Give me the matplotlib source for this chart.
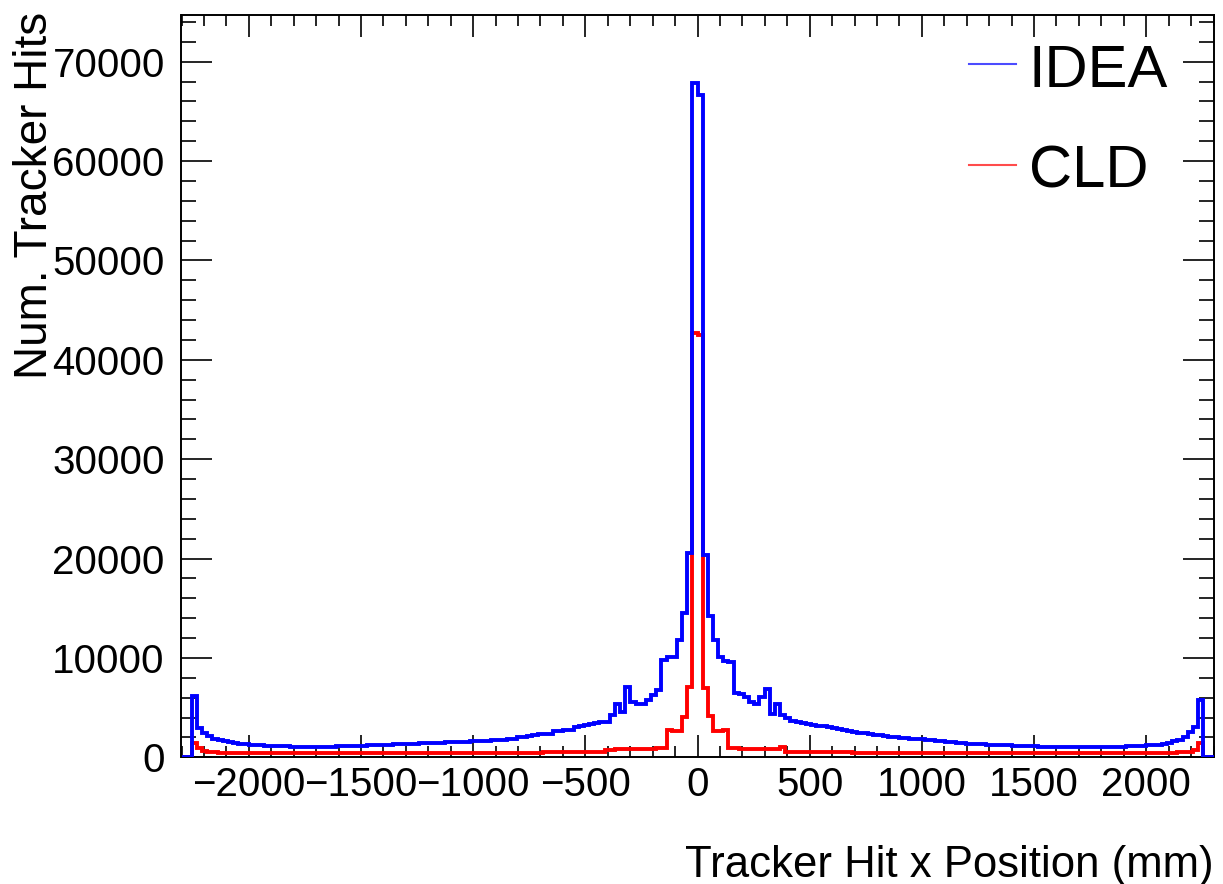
import numpy as np
import matplotlib
matplotlib.use("Agg")
import matplotlib.pyplot as plt
from matplotlib.ticker import MultipleLocator

plt.rcParams['font.family'] = ['Liberation Sans', 'DejaVu Sans']

# ---------------- data ----------------
x_lo, x_hi, n_bins = -2300.0, 2300.0, 200

# IDEA (blue): left half listed from the outermost bin (x=-2300) toward 0
idea_left = [
    0, 0, 6200, 2900, 2400, 2100, 1850, 1700, 1600, 1500,
    1400, 1350, 1300, 1250, 1200, 1200, 1150, 1150, 1100, 1100,
    1100, 1050, 1050, 1050, 1000, 1050, 1000, 1050, 1050, 1050,
    1100, 1100, 1100, 1150, 1150, 1150, 1200, 1200, 1200, 1250,
    1250, 1300, 1300, 1300, 1350, 1350, 1400, 1400, 1400, 1450,
    1450, 1500, 1500, 1550, 1550, 1550, 1600, 1600, 1600, 1650,
    1700, 1750, 1750, 1800, 1850, 2000, 2050, 2100, 2250, 2300,
    2350, 2300, 2600, 2650, 2700, 2750, 3050, 3200, 3300, 3400,
    3450, 3600, 3600, 4250, 5400, 4600, 7100, 5600, 5400, 5400,
    5800, 6300, 6800, 9800, 10100, 10100, 11800, 14500, 20600, 67900,
]
# IDEA right half listed from 0 toward x=+2300
idea_right = [
    66600, 20400, 14200, 11800, 10100, 9700, 9600, 6500, 6400, 6100,
    5600, 5400, 6100, 6900, 4400, 5400, 4300, 4000, 3700, 3600,
    3500, 3400, 3300, 3200, 3100, 3000, 2900, 2800, 2700, 2600,
    2500, 2450, 2400, 2300, 2250, 2200, 2100, 2050, 2000, 1950,
    1900, 1850, 1800, 1800, 1750, 1700, 1650, 1600, 1550, 1500,
    1450, 1400, 1350, 1350, 1300, 1300, 1250, 1250, 1200, 1200,
    1200, 1150, 1150, 1100, 1100, 1100, 1050, 1050, 1050, 1000,
    1000, 1000, 1000, 1000, 1000, 1000, 1000, 1000, 1000, 1000,
    1050, 1050, 1050, 1100, 1100, 1150, 1150, 1200, 1200, 1250,
    1350, 1450, 1600, 1750, 2050, 2550, 3050, 5800, 0, 0,
]

# CLD (red)
cld_left = [
    0, 0, 1400, 900, 650, 550, 500, 450, 420, 400,
    400, 400, 400, 400, 400, 400, 400, 400, 400, 400,
    400, 400, 400, 400, 400, 400, 400, 400, 400, 400,
    400, 400, 400, 400, 400, 400, 400, 400, 400, 400,
    400, 400, 400, 400, 400, 400, 400, 400, 400, 450,
    450, 450, 450, 450, 450, 450, 450, 450, 450, 450,
    450, 450, 450, 450, 450, 450, 450, 450, 450, 450,
    500, 500, 500, 500, 500, 500, 500, 500, 500, 500,
    500, 550, 750, 750, 800, 800, 850, 800, 800, 850,
    850, 850, 900, 900, 2750, 2600, 2600, 4100, 7100, 42700,
]
cld_right = [
    42500, 7000, 4200, 2600, 2600, 2750, 900, 900, 850, 850,
    850, 800, 800, 800, 800, 800, 1000, 550, 500, 500,
    500, 500, 500, 500, 500, 500, 500, 500, 500, 500,
    450, 450, 450, 450, 450, 450, 450, 450, 450, 450,
    450, 450, 450, 450, 450, 450, 450, 450, 450, 450,
    400, 400, 400, 400, 400, 400, 400, 400, 400, 400,
    400, 400, 400, 400, 400, 400, 400, 400, 400, 400,
    400, 400, 400, 400, 400, 400, 400, 400, 400, 400,
    400, 400, 400, 400, 400, 400, 400, 400, 400, 400,
    420, 450, 450, 500, 500, 550, 750, 1400, 0, 0,
]

idea = np.array(idea_left + idea_right, dtype=float)
cld = np.array(cld_left + cld_right, dtype=float)
edges = np.linspace(x_lo, x_hi, n_bins + 1)

# ---------------- figure ----------------
W, H = 1223, 884
fig = plt.figure(figsize=(W / 100, H / 100), dpi=100)
L, R, T, B = 181.5, 1213.5, 15, 757.3
ax = fig.add_axes([L / W, 1 - B / H, (R - L) / W, (B - T) / H])

ax.stairs(cld, edges, color='#ff0000', lw=2.8, zorder=2)
ax.stairs(idea, edges, color='#0000ff', lw=2.8, zorder=3)

ax.set_xlim(x_lo, x_hi)
ax.set_ylim(0, 74700)

ax.xaxis.set_major_locator(MultipleLocator(500))
ax.xaxis.set_minor_locator(MultipleLocator(100))
ax.yaxis.set_major_locator(MultipleLocator(10000))
ax.yaxis.set_minor_locator(MultipleLocator(2000))

ax.tick_params(axis='both', which='both', direction='in', top=True, right=True,
               width=1.2, colors='black', labelsize=29)
ax.tick_params(axis='x', which='major', length=16, pad=6)
ax.tick_params(axis='x', which='minor', length=8)
ax.tick_params(axis='y', which='major', length=22.5, pad=12)
ax.tick_params(axis='y', which='minor', length=11)
for s in ax.spines.values():
    s.set_linewidth(1.4)

# axis titles (ROOT style: aligned to the far end of the axis)
fig.text(R / W, 1 - 877 / H, 'Tracker Hit x Position (mm)', ha='right',
         va='baseline', fontsize=31.5)
fig.text(35 / W, 1 - 12 / H, 'Num. Tracker Hits', rotation=90, ha='center',
         va='top', fontsize=33)

# legend
for ylin, ybase, col, lab in [(64, 87, '#0000ff', 'IDEA'), (165, 187, '#ff0000', 'CLD')]:
    fig.add_artist(plt.Line2D([969 / W, 1016 / W], [1 - ylin / H, 1 - ylin / H],
                              color=col, lw=1.5, alpha=0.7))
    fig.text(1029 / W, 1 - ybase / H, lab, ha='left', va='baseline', fontsize=43)

fig.savefig('out.png', dpi=100)
